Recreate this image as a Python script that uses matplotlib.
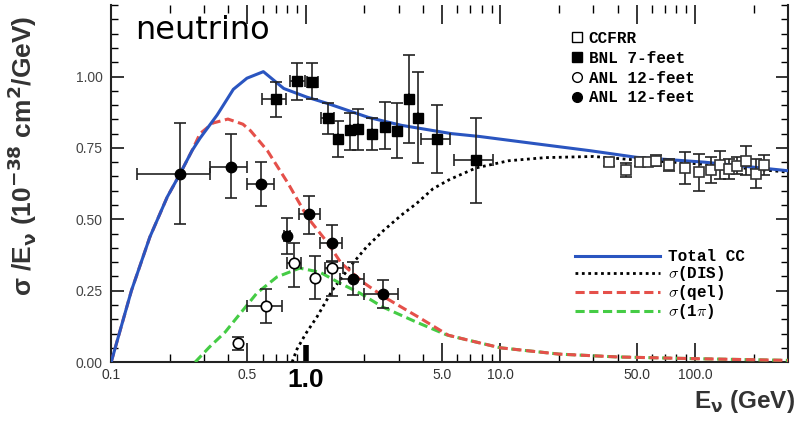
import matplotlib.pyplot as plt
import numpy as np
from matplotlib.lines import Line2D

# ---- data ----
# curves (E in GeV, sigma/E in 1e-38 cm^2/GeV)
tot_E = [0.1, 0.11, 0.127, 0.158, 0.194, 0.226, 0.26, 0.286, 0.35, 0.424, 0.498, 0.605,
         0.77, 1.01, 1.3, 2.09, 3.1, 5.6, 7.8, 15, 29, 50, 112, 300]
tot_y = [0.0, 0.1, 0.25, 0.438, 0.578, 0.66, 0.74, 0.784, 0.865, 0.955, 0.994, 1.017,
         0.958, 0.928, 0.905, 0.857, 0.829, 0.80, 0.79, 0.765, 0.74, 0.717, 0.70, 0.67]

dis_E = [0.85, 0.9, 1.0, 1.14, 1.37, 1.68, 2.05, 2.5, 3.1, 3.7, 4.5, 5.5, 7.5, 11, 17, 30,
         45, 100, 300]
dis_y = [0.0, 0.045, 0.10, 0.158, 0.252, 0.333, 0.403, 0.46, 0.515, 0.555, 0.607, 0.64,
         0.68, 0.705, 0.716, 0.72, 0.71, 0.695, 0.665]

qel_E = [0.1, 0.11, 0.127, 0.158, 0.194, 0.226, 0.26, 0.286, 0.333, 0.398, 0.475, 0.52,
         0.635, 0.81, 1.02, 1.30, 1.52, 2.0, 2.54, 3.8, 5.4, 7, 10, 20, 40, 100, 300]
qel_y = [0.0, 0.1, 0.25, 0.438, 0.578, 0.66, 0.74, 0.80, 0.837, 0.851, 0.833, 0.81,
         0.74, 0.626, 0.507, 0.416, 0.346, 0.276, 0.227, 0.157, 0.094, 0.075, 0.05, 0.028,
         0.018, 0.012, 0.006]

pi_E = [0.27, 0.32, 0.385, 0.42, 0.561, 0.71, 0.93, 1.18, 1.49, 1.89, 2.48, 3.7, 5.3, 7,
        10, 20, 40, 100, 300]
pi_y = [0.0, 0.053, 0.105, 0.137, 0.242, 0.298, 0.329, 0.315, 0.277, 0.242, 0.193, 0.14,
        0.095, 0.075, 0.05, 0.028, 0.018, 0.012, 0.006]

# ANL 12-feet, filled circles
anlf_E = [0.226, 0.412, 0.587, 0.80, 1.035, 1.36, 1.74, 2.48]
anlf_y = [0.658, 0.683, 0.623, 0.441, 0.518, 0.417, 0.29, 0.238]
anlf_ylo = [0.483, 0.574, 0.546, 0.38, 0.45, 0.354, 0.235, 0.189]
anlf_yhi = [0.837, 0.80, 0.70, 0.504, 0.58, 0.48, 0.35, 0.287]
anlf_xlo = [0.136, 0.32, 0.50, 0.77, 0.92, 1.18, 1.50, 2.0]
anlf_xhi = [0.32, 0.50, 0.686, 0.83, 1.18, 1.53, 2.0, 2.97]

# ANL 12-feet, open circles
anlo_E = [0.448, 0.624, 0.867, 1.12, 1.37]
anlo_y = [0.067, 0.196, 0.347, 0.294, 0.33]
anlo_ylo = [0.042, 0.137, 0.263, 0.22, 0.23]
anlo_yhi = [0.088, 0.256, 0.417, 0.37, 0.35]
anlo_xlo = [0.448, 0.50, 0.80, 1.12, 1.25]
anlo_xhi = [0.448, 0.75, 0.94, 1.12, 1.55]

# BNL 7-feet, filled squares
bnl_E = [0.70, 0.90, 1.07, 1.30, 1.46, 1.68, 1.85, 2.18, 2.54, 2.93, 3.38, 3.75, 4.7, 7.5]
bnl_y = [0.921, 0.984, 0.98, 0.854, 0.78, 0.812, 0.816, 0.798, 0.823, 0.809, 0.921, 0.854,
         0.78, 0.707]
bnl_ylo = [0.858, 0.917, 0.92, 0.80, 0.718, 0.742, 0.742, 0.742, 0.746, 0.714, 0.767,
           0.697, 0.662, 0.557]
bnl_yhi = [0.98, 1.047, 1.047, 0.907, 0.843, 0.872, 0.886, 0.854, 0.91, 0.907, 1.075,
           1.015, 0.90, 0.854]
bnl_xlo = [0.594, 0.83, 1.01, 1.20, 1.46, 1.68, 1.85, 2.18, 2.54, 2.93, 3.38, 3.75, 3.9, 5.8]
bnl_xhi = [0.79, 0.99, 1.15, 1.40, 1.46, 1.68, 1.85, 2.18, 2.54, 2.93, 3.38, 3.75, 5.5, 9.1]

# CCFRR, open squares
ccf_E = [36, 44, 52, 57, 63, 73, 89, 105, 120, 135, 150, 165, 182, 205, 225]
ccf_y = [0.70, 0.672, 0.70, 0.70, 0.705, 0.69, 0.68, 0.665, 0.672, 0.69, 0.675, 0.688,
         0.705, 0.66, 0.69]
ccf_err = [0.015, 0.025, 0.015, 0.015, 0.02, 0.02, 0.055, 0.065, 0.045, 0.05, 0.035, 0.03,
           0.05, 0.05, 0.035]

xt = [0.1, 0.5, 1, 5, 10, 50, 100]
xt_lab = ["0.1", "0.5", "1.0", "5.0", "10.0", "50.0", "100.0"]
xt_minor = [0.2, 0.3, 0.4, 0.6, 0.7, 0.8, 0.9, 2, 3, 4, 6, 7, 8, 9, 20, 30, 40, 60, 70, 80,
            90, 200]
yt = [0.0, 0.25, 0.5, 0.75, 1.0]
yt_lab = ["0.00", "0.25", "0.50", "0.75", "1.00"]

plt.rcParams['font.family'] = ['Liberation Sans', 'DejaVu Sans']

fig = plt.figure(figsize=(8, 4.25), dpi=100)
ax = fig.add_axes([0.139, 0.148, 0.846, 0.84])

blue = '#2a55c0'
red = '#e5504a'
green = '#45cc45'

l_dis, = ax.plot(dis_E, dis_y, color='black', lw=2, ls=(0, (1, 1.3)), zorder=3)
l_pi, = ax.plot(pi_E, pi_y, color=green, lw=2.2, ls=(0, (3, 1.5)), zorder=3)
l_qel, = ax.plot(qel_E, qel_y, color=red, lw=2.2, ls=(0, (3, 1.5)), zorder=3)
l_tot, = ax.plot(tot_E, tot_y, color=blue, lw=2.2, zorder=4)

ek = dict(ecolor='#222222', elinewidth=1.2, capsize=4, capthick=1.2, ls='none', zorder=5)

def xerr(E, lo, hi):
    return [np.array(E) - np.array(lo), np.array(hi) - np.array(E)]

ax.errorbar(anlf_E, anlf_y, yerr=xerr(anlf_y, anlf_ylo, anlf_yhi),
            xerr=xerr(anlf_E, anlf_xlo, anlf_xhi), fmt='o', ms=7.5,
            mfc='black', mec='black', **ek)
ax.errorbar(anlo_E, anlo_y, yerr=xerr(anlo_y, anlo_ylo, anlo_yhi),
            xerr=xerr(anlo_E, anlo_xlo, anlo_xhi), fmt='o', ms=7.5,
            mfc='white', mec='black', mew=1.2, **ek)
ax.errorbar(bnl_E, bnl_y, yerr=xerr(bnl_y, bnl_ylo, bnl_yhi),
            xerr=xerr(bnl_E, bnl_xlo, bnl_xhi), fmt='s', ms=7,
            mfc='black', mec='black', **ek)
ax.errorbar(ccf_E, ccf_y, yerr=ccf_err, fmt='s', ms=6.5, mfc='white', mec='#333333',
            mew=1.2, **ek)

ax.set_xscale('log')
ax.set_xlim(0.1, 300)
ax.set_ylim(0, 1.25)

ax.set_xticks(xt)
ax.set_xticklabels(xt_lab)
ax.set_xticks(xt_minor, minor=True)
ax.set_xticklabels([], minor=True)
ax.set_yticks(yt)
ax.set_yticklabels(yt_lab)
ax.set_yticks(np.arange(0, 1.26, 0.05), minor=True)

ax.tick_params(axis='x', which='major', direction='in', length=14, width=1.1,
               top=True, labelsize=10, labelcolor='#333333', pad=4)
ax.tick_params(axis='x', which='minor', direction='in', length=6, width=1.0, top=True)
ax.tick_params(axis='y', which='major', direction='in', length=9, width=1.1,
               right=True, labelsize=10, labelcolor='#444444', pad=6)
ax.tick_params(axis='y', which='minor', direction='in', length=5, width=1.0, right=True)

for lab in ax.get_xticklabels():
    if lab.get_text() == "1.0":
        lab.set_fontsize(19)
        lab.set_fontweight('bold')
        lab.set_color('black')
tk = ax.xaxis.get_major_ticks()[2]
tk.tick1line.set_markeredgewidth(4)
tk.tick1line.set_markersize(12)

for s in ['left', 'right', 'bottom']:
    ax.spines[s].set_linewidth(1.5)
    ax.spines[s].set_color('#222222')
ax.spines['top'].set_visible(False)

ax.text(0.035, 0.93, 'neutrino', transform=ax.transAxes, fontsize=23, va='center',
        family='DejaVu Sans')

# legends
mprop = dict(family='Liberation Mono', weight='bold', size=11.5)
h1 = [Line2D([], [], ls='none', marker='s', ms=6.5, mfc='white', mec='black'),
      Line2D([], [], ls='none', marker='s', ms=6.5, mfc='black', mec='black'),
      Line2D([], [], ls='none', marker='o', ms=7, mfc='white', mec='black'),
      Line2D([], [], ls='none', marker='o', ms=7, mfc='black', mec='black')]
leg1 = ax.legend(h1, ['CCFRR', 'BNL 7-feet', 'ANL 12-feet', 'ANL 12-feet'],
                 loc='upper left', bbox_to_anchor=(0.668, 0.95), frameon=False,
                 prop=mprop, handlelength=0.7, handletextpad=0.4, labelspacing=0.3,
                 borderpad=0)
ax.add_artist(leg1)

lprop = dict(family='Liberation Mono', weight='bold', size=11.5, math_fontfamily='cm')
ax.legend([l_tot, l_dis, l_qel, l_pi],
          ['Total CC', r'$\sigma$(DIS)', r'$\sigma$(qel)', r'$\sigma$(1$\pi$)'],
          loc='upper left', bbox_to_anchor=(0.674, 0.338), frameon=False,
          prop=lprop, handlelength=5.3, handletextpad=0.5, labelspacing=0.0,
          borderpad=0)

fig.text(0.028, 0.633, r'σ /E$_\mathbf{\nu}$ (10$^\mathbf{-38}$ cm$^\mathbf{2}$/GeV)',
         rotation=90, ha='center', va='center', fontsize=19, fontweight='bold',
         color='#333333')
fig.text(0.994, 0.055, r'E$_\mathbf{\nu}$ (GeV)', ha='right', va='center', fontsize=17.5,
         fontweight='bold', color='#333333')

plt.savefig('out.png', dpi=100)
